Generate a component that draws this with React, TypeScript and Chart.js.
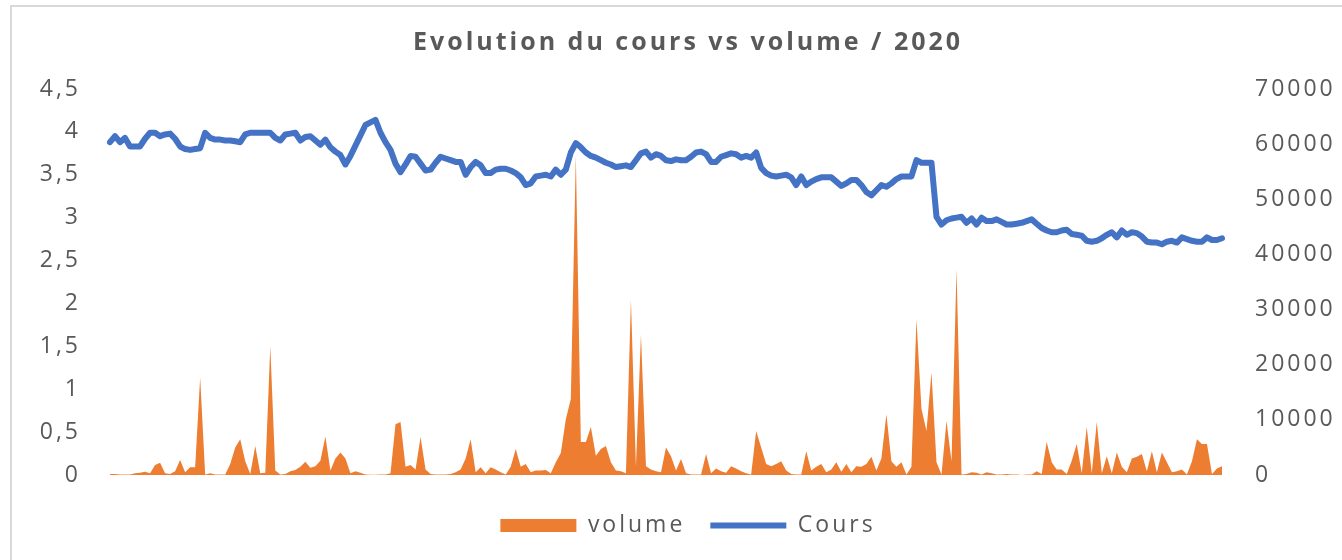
import React, { useEffect, useRef } from "react";
import { Chart, registerables } from "chart.js";

Chart.register(...registerables);

const chartTitle = "Evolution du cours vs volume / 2020";
const volumeLabel = "volume";
const coursLabel = "Cours";

// Cours (left axis) – one value per trading day
const cours = [
  3.88, 3.95, 3.88, 3.93, 3.83, 3.83, 3.83, 3.92, 3.99, 3.99,
  3.95, 3.97, 3.98, 3.92, 3.83, 3.80, 3.79, 3.80, 3.81, 3.99,
  3.93, 3.91, 3.91, 3.90, 3.90, 3.89, 3.88, 3.97, 3.99, 3.99,
  3.99, 3.99, 3.99, 3.93, 3.90, 3.97, 3.98, 3.99, 3.90, 3.94,
  3.95, 3.90, 3.85, 3.91, 3.82, 3.77, 3.73, 3.62, 3.72, 3.84,
  3.96, 4.08, 4.11, 4.14, 3.99, 3.88, 3.79, 3.63, 3.53, 3.62,
  3.72, 3.71, 3.63, 3.55, 3.56, 3.64, 3.71, 3.69, 3.67, 3.65,
  3.65, 3.50, 3.59, 3.65, 3.61, 3.52, 3.52, 3.56, 3.57, 3.57,
  3.55, 3.52, 3.47, 3.38, 3.40, 3.48, 3.49, 3.50, 3.48, 3.56,
  3.50, 3.56, 3.76, 3.87, 3.82, 3.76, 3.72, 3.70, 3.67, 3.64,
  3.62, 3.59, 3.60, 3.61, 3.59, 3.67, 3.75, 3.77, 3.70, 3.74,
  3.72, 3.67, 3.66, 3.68, 3.67, 3.67, 3.71, 3.76, 3.77, 3.74,
  3.65, 3.65, 3.71, 3.73, 3.75, 3.74, 3.70, 3.72, 3.70, 3.76,
  3.58, 3.52, 3.49, 3.48, 3.49, 3.50, 3.47, 3.38, 3.48, 3.38,
  3.42, 3.45, 3.47, 3.47, 3.47, 3.42, 3.37, 3.40, 3.44, 3.44,
  3.38, 3.30, 3.26, 3.32, 3.38, 3.36, 3.40, 3.45, 3.48, 3.48,
  3.48, 3.67, 3.64, 3.64, 3.64, 3.01, 2.92, 2.97, 2.99, 3.00,
  3.01, 2.94, 2.99, 2.92, 3.00, 2.96, 2.96, 2.98, 2.95, 2.92,
  2.92, 2.93, 2.94, 2.96, 2.98, 2.93, 2.88, 2.85, 2.83, 2.83,
  2.85, 2.86, 2.81, 2.80, 2.79, 2.73, 2.72, 2.73, 2.76, 2.80,
  2.83, 2.77, 2.85, 2.80, 2.83, 2.82, 2.78, 2.72, 2.71, 2.71,
  2.69, 2.72, 2.73, 2.71, 2.77, 2.75, 2.73, 2.72, 2.72, 2.77,
  2.74, 2.74, 2.76,
];

// Volume (right axis) – one value per trading day
const volume = [
  200, 200, 100, 100, 100, 300, 400, 600, 300, 1800,
  2200, 300, 200, 700, 2700, 500, 1400, 1400, 17700, 100,
  300, 100, 100, 100, 2000, 5000, 6500, 2500, 200, 5250,
  300, 400, 23300, 800, 100, 200, 700, 900, 1500, 2400,
  1300, 1600, 2600, 7000, 800, 3000, 4100, 3000, 300, 700,
  400, 100, 50, 50, 100, 100, 300, 9200, 9600, 1500,
  1800, 1000, 6900, 1000, 200, 100, 100, 100, 200, 500,
  1000, 3000, 6500, 500, 1400, 300, 1400, 1000, 500, 100,
  1500, 4700, 1500, 2000, 500, 800, 800, 900, 300, 2300,
  4000, 10100, 13800, 58000, 6000, 6000, 8700, 3500, 4700, 5250,
  2300, 800, 700, 300, 31800, 1500, 25500, 1600, 1000, 700,
  500, 5000, 3400, 800, 2900, 300, 100, 100, 100, 3800,
  300, 1200, 700, 400, 1600, 1200, 700, 300, 100, 8000,
  5000, 2000, 1600, 2000, 2500, 800, 200, 100, 100, 4300,
  800, 1500, 2000, 500, 1000, 2300, 600, 2000, 500, 1600,
  1500, 2000, 3300, 800, 3000, 11000, 2500, 1500, 2300, 100,
  1500, 28200, 12000, 8000, 18600, 2300, 100, 9800, 2500, 37300,
  100, 200, 500, 400, 100, 500, 300, 100, 100, 200,
  100, 100, 0, 100, 100, 700, 200, 6000, 2300, 1000,
  1000, 200, 2600, 5600, 300, 8700, 300, 9600, 300, 3400,
  300, 4100, 1500, 500, 3000, 3300, 3800, 700, 4300, 500,
  4100, 2300, 500, 700, 1000, 100, 2500, 6500, 5600, 5600,
  200, 1200, 1600,
];

const days = cours.map((_, i) => `J${i + 1}`);

const ORANGE = "#ED7D31";
const BLUE = "#4472C4";
const GREY = "#595959";
const FAMILY = "'Open Sans', sans-serif";

const spacingPlugin = {
  id: "letterSpacing",
  beforeUpdate(chart: any) {
    chart.ctx.letterSpacing = "3px";
  },
  beforeDraw(chart: any) {
    chart.ctx.letterSpacing = "3px";
  },
};

export default function App() {
  const ref = useRef<HTMLCanvasElement>(null);

  useEffect(() => {
    if (!ref.current) return;
    const chart = new Chart(ref.current, {
      type: "line",
      data: {
        labels: days,
        datasets: [
          {
            label: volumeLabel,
            data: volume,
            yAxisID: "y1",
            fill: "origin",
            backgroundColor: ORANGE,
            borderColor: ORANGE,
            borderWidth: 0,
            pointRadius: 0,
            pointHoverRadius: 0,
            pointStyle: "rect",
            pointBackgroundColor: ORANGE,
            pointBorderWidth: 0,
            tension: 0,
            order: 1,
          } as any,
          {
            label: coursLabel,
            data: cours,
            yAxisID: "y",
            fill: false,
            borderColor: BLUE,
            backgroundColor: BLUE,
            borderWidth: 6,
            borderJoinStyle: "round",
            borderCapStyle: "round",
            pointRadius: 0,
            pointHoverRadius: 0,
            pointStyle: "line",
            pointBorderColor: BLUE,
            pointBorderWidth: 6,
            tension: 0,
            order: 0,
          } as any,
        ],
      },
      options: {
        responsive: false,
        animation: false,
        layout: { padding: { left: 0, right: 0, top: 0, bottom: 13 } },
        plugins: {
          title: {
            display: true,
            text: chartTitle,
            color: GREY,
            font: { family: FAMILY, size: 25, weight: "bold", lineHeight: 1.2 },
            padding: { top: 28, bottom: 31 },
          },
          legend: {
            position: "bottom",
            labels: {
              usePointStyle: true,
              pointStyleWidth: 76,
              boxHeight: 13,
              padding: 25,
              color: GREY,
              font: { family: FAMILY, size: 23 },
              sort: (a: any, b: any) => a.datasetIndex - b.datasetIndex,
            },
          },
          tooltip: { enabled: false },
        },
        scales: {
          x: {
            display: true,
            grid: { display: false, drawTicks: false },
            border: { display: false },
            ticks: { display: false },
            afterFit: (s: any) => {
              s.height = 14;
            },
          },
          y: {
            position: "left",
            min: 0,
            max: 4.5,
            ticks: {
              stepSize: 0.5,
              padding: 29,
              color: GREY,
              font: { family: FAMILY, size: 23 },
              callback: (v: any) => String(v).replace(".", ","),
            },
            grid: { display: false, drawTicks: false },
            border: { display: false },
            afterFit: (s: any) => {
              s.width = 110;
            },
          },
          y1: {
            position: "right",
            min: 0,
            max: 70000,
            ticks: {
              stepSize: 10000,
              padding: 33,
              color: GREY,
              font: { family: FAMILY, size: 23 },
              callback: (v: any) => String(v),
            },
            grid: { display: false, drawTicks: false },
            border: { display: false },
            afterFit: (s: any) => {
              s.width = 154;
            },
          },
        },
      } as any,
      plugins: [spacingPlugin],
    });
    return () => chart.destroy();
  }, []);

  return (
    <div
      style={{
        position: "fixed",
        left: 0,
        top: 0,
        width: 1342,
        height: 560,
        overflow: "hidden",
        background: "#ffffff",
      }}
    >
      <div
        style={{
          position: "absolute",
          left: 10,
          top: 5,
          width: 1400,
          height: 600,
          border: "2px solid #d9d9d9",
          boxSizing: "border-box",
        }}
      />
      <canvas
        ref={ref}
        width={1376}
        height={560}
        style={{ position: "absolute", left: 0, top: 0, display: "block" }}
      />
    </div>
  );
}
